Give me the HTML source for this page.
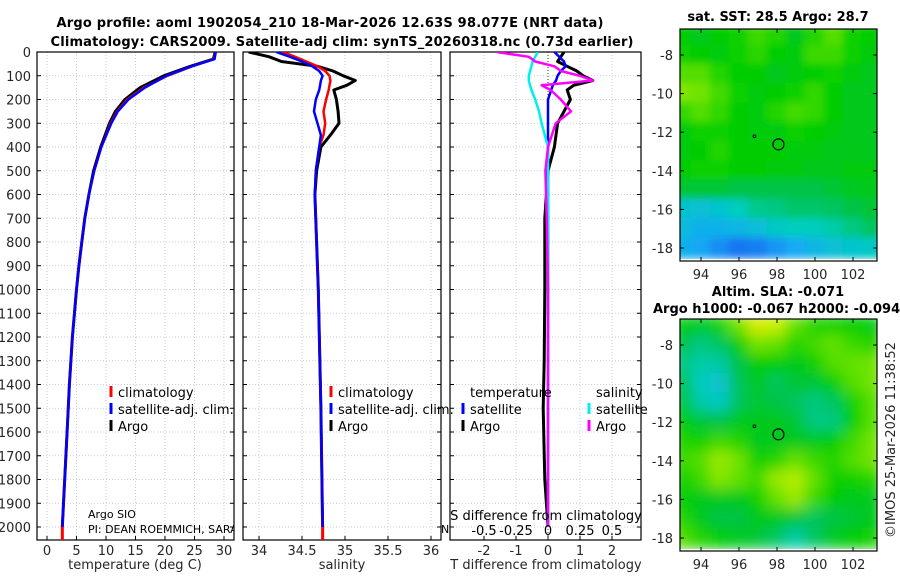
<!DOCTYPE html>
<html><head><meta charset="utf-8"><style>
html,body{margin:0;padding:0;background:#fff}
svg{display:block;font-family:"DejaVu Sans","Liberation Sans",sans-serif}
</style></head><body>
<svg id="c" width="900" height="580" viewBox="0 0 900 580" xmlns="http://www.w3.org/2000/svg">
<defs>
<filter id="bl" x="0" y="0" width="1" height="1"><feGaussianBlur stdDeviation="4" edgeMode="duplicate"/></filter>
<filter id="bl2" x="0" y="0" width="1" height="1"><feGaussianBlur stdDeviation="7" edgeMode="duplicate"/></filter>
<clipPath id="m1c"><rect x="680" y="29" width="197" height="232"/></clipPath>
<clipPath id="m2c"><rect x="680" y="319" width="197" height="232"/></clipPath>
<clipPath id="p1c"><rect x="37" y="52" width="197" height="488"/></clipPath>
<clipPath id="p2c"><rect x="243" y="52" width="198" height="488"/></clipPath>
<clipPath id="p3c"><rect x="450" y="52" width="191" height="488"/></clipPath>
</defs>
<text x="330" y="27" text-anchor="middle" font-weight="bold" font-size="13" textLength="547">Argo profile: aoml 1902054_210 18-Mar-2026 12.63S 98.077E (NRT data)</text>
<text x="342" y="46" text-anchor="middle" font-weight="bold" font-size="13" textLength="583">Climatology: CARS2009. Satellite-adj clim: synTS_20260318.nc (0.73d earlier)</text>
<g id="g"></g>
</svg>
<script>
// ---- profile data ----
const depthsT = [0,30,60,100,150,200,250,300,400,500,600,700,800,900,1000,1200,1400,1600,1800,2000];
const tempArgo = [28.5,28.2,24.3,19.8,15.8,13.2,11.6,10.6,9.1,7.9,7.1,6.4,5.9,5.4,5.0,4.3,3.8,3.4,3.0,2.6];
const tempClim = [28.6,28.3,24.6,20.4,16.4,13.6,11.9,10.8,9.2,8.0,7.1,6.4,5.9,5.4,5.0,4.3,3.8,3.4,3.0,2.6];
const tempSat  = [28.6,28.4,24.5,20.2,16.6,13.8,12.0,10.9,9.2,8.0,7.1,6.4,5.9,5.4,5.0,4.3,3.8,3.4,3.0,2.6];
const depthsS = [0,20,40,60,80,100,120,140,160,200,250,300,350,400,500,600,800,1000,1500,2000];
const salArgo = [33.88,34.12,34.26,34.68,34.86,34.98,35.12,35.02,34.87,34.90,34.92,34.93,34.83,34.72,34.67,34.65,34.67,34.69,34.72,34.74];
const salClim = [34.28,34.42,34.55,34.68,34.77,34.82,34.83,34.82,34.81,34.78,34.75,34.77,34.75,34.70,34.66,34.65,34.67,34.69,34.72,34.74];
const salSat  = [34.20,34.36,34.50,34.62,34.70,34.74,34.72,34.71,34.70,34.66,34.64,34.68,34.72,34.70,34.66,34.65,34.67,34.69,34.72,34.74];
const depthsD = [0,20,40,60,80,100,120,140,160,200,250,300,400,500,700,1000,1300,1500,1800,2000];
const dTArgo  = [0.5,0.4,0.3,0.6,0.9,1.1,1.4,0.8,0.6,0.7,0.5,0.3,0.2,0.0,-0.1,-0.1,-0.12,-0.15,-0.1,0.0];
const dTSat   = [0.2,0.35,0.5,0.55,0.4,0.3,0.25,0.15,0.1,0.0,0.0,0.0,0.0,0.0,0.0,0.0,0.0,0.0,0.0,0.0];
const dSArgo  = [-0.40,-0.15,-0.10,0.05,0.10,0.25,0.35,-0.05,0.02,0.10,0.18,0.06,0.00,-0.02,-0.01,0.00,0.00,0.00,0.00,0.00];
const dSSat   = [-0.08,-0.10,-0.12,-0.13,-0.14,-0.15,-0.15,-0.14,-0.13,-0.10,-0.07,-0.05,0.00,0.00,0.00,0.00,0.00,0.00,0.00,0.00];
const depthTicks = [0,100,200,300,400,500,600,700,800,900,1000,1100,1200,1300,1400,1500,1600,1700,1800,1900,2000];
const tempTicks = [0,5,10,15,20,25,30];
const salTicks = [34,34.5,35,35.5,36];
const dTTicks = [-2,-1,0,1,2];
const dSTicks = [-0.5,-0.25,0,0.25,0.5];
// ---- map data (rows lat -7..-18, cols lon 93..103) ----
const mapLats = [-7,-8,-9,-10,-11,-12,-13,-14,-15,-16,-17,-18];
const mapLons = [93,94,95,96,97,98,99,100,101,102,103];
const sstGrid = [
[.58,.55,.58,.60,.65,.62,.55,.62,.68,.60,.58],
[.60,.58,.57,.60,.63,.58,.57,.65,.65,.60,.56],
[.68,.68,.62,.58,.58,.55,.56,.58,.60,.56,.55],
[.74,.72,.66,.60,.56,.58,.60,.64,.58,.55,.55],
[.64,.68,.64,.58,.56,.62,.66,.64,.58,.55,.55],
[.56,.60,.60,.58,.56,.57,.60,.58,.56,.55,.55],
[.56,.58,.62,.58,.58,.58,.57,.56,.55,.55,.55],
[.58,.60,.60,.58,.58,.57,.56,.55,.55,.56,.56],
[.52,.52,.52,.50,.50,.50,.50,.50,.52,.54,.55],
[.36,.34,.36,.40,.44,.45,.47,.47,.48,.50,.52],
[.32,.28,.28,.30,.33,.38,.40,.40,.42,.45,.48],
[.28,.24,.18,.12,.14,.20,.25,.30,.34,.36,.38]];
const slaGrid = [
[.58,.55,.60,.72,.90,.85,.70,.62,.60,.58,.56],
[.50,.45,.48,.58,.72,.70,.62,.66,.70,.65,.62],
[.45,.42,.42,.50,.58,.58,.55,.60,.68,.70,.72],
[.50,.40,.35,.48,.55,.48,.52,.52,.58,.68,.72],
[.52,.42,.38,.48,.52,.50,.48,.45,.48,.60,.68],
[.58,.52,.50,.55,.55,.55,.52,.45,.45,.58,.68],
[.62,.60,.65,.62,.55,.55,.55,.55,.58,.65,.72],
[.65,.68,.78,.72,.60,.62,.70,.65,.62,.68,.72],
[.60,.65,.75,.70,.65,.78,.82,.70,.60,.60,.62],
[.58,.55,.55,.55,.60,.70,.78,.65,.58,.55,.55],
[.62,.55,.50,.50,.55,.55,.52,.48,.50,.52,.55],
[.68,.62,.58,.55,.52,.48,.42,.48,.55,.58,.60]];
const argoPos = [98.077,-12.63];
const lonTicks = [94,96,98,100,102];
const latTicks = [-8,-10,-12,-14,-16,-18];

const NS='http://www.w3.org/2000/svg';
const G=document.getElementById('g');
function el(tag,attrs,parent,txt){const e=document.createElementNS(NS,tag);for(const k in attrs)e.setAttribute(k,attrs[k]);if(txt!==undefined)e.textContent=txt;(parent||G).appendChild(e);return e;}
const yD=d=>52+d*0.2375;
const BOT=540;
function panel(x0,x1,xs,ticks,labelFn,clipId,name){
  const g=el('g',{});
  
  
  depthTicks.forEach(d=>{el('line',{x1:x0,x2:x1,y1:yD(d),y2:yD(d),stroke:'#b8c0dc','stroke-width':0.8,'stroke-dasharray':'1,2'},g);});
  ticks.forEach(t=>{el('line',{x1:xs(t),x2:xs(t),y1:52,y2:BOT,stroke:'#b8c0dc','stroke-width':0.8,'stroke-dasharray':'1,2'},g);
    el('line',{x1:xs(t),x2:xs(t),y1:BOT,y2:BOT-4,stroke:'#000'},g);
    const lt=el('text',{x:xs(t),y:555,'text-anchor':'middle','font-size':13,fill:'#262626'},g,labelFn(t));
    
    });
  depthTicks.forEach(d=>{el('line',{x1:x0,x2:x0+4,y1:yD(d),y2:yD(d),stroke:'#000'},g);el('line',{x1:x1,x2:x1-4,y1:yD(d),y2:yD(d),stroke:'#000'},g);});
  el('rect',{x:x0,y:52,width:x1-x0,height:BOT-52,fill:'none',stroke:'#000','stroke-width':1.2},g);
  return g;
}
function line(xs,depths,vals,color,w,clip,name){
  const pts=depths.map((d,i)=>xs(vals[i]).toFixed(1)+','+yD(d).toFixed(1)).join(' ');
  const p=el('polyline',{points:pts,fill:'none',stroke:color,'stroke-width':w,'stroke-linejoin':'round','clip-path':'url(#'+clip+')'});
  
  
}
// Panel 1
const xT=t=>47+t*5.9;
panel(37,234,xT,tempTicks,t=>String(t),'p1c','temperature-panel');
depthTicks.forEach(d=>{const t=el('text',{x:31,y:yD(d)+5,'text-anchor':'end','font-size':13,fill:'#262626'},G,String(d));
  
  });
line(xT,depthsT,tempArgo,'#000',3,'p1c','temp-argo-line');
line(xT,depthsT,tempClim,'#f00',2.5,'p1c','temp-clim-line');
line(xT,depthsT,tempSat,'#00f',2.5,'p1c','temp-sat-line');
el('line',{x1:xT(2.6),x2:xT(2.6),y1:yD(2000),y2:BOT,stroke:'#f00','stroke-width':3});
let t1=el('text',{x:135,y:569,'text-anchor':'middle','font-size':13,fill:'#262626'},G,'temperature (deg C)');


// Panel 2
const xS=s=>259+(s-34)*86;
panel(243,441,xS,salTicks,t=>String(t),'p2c','salinity-panel');
line(xS,depthsS,salArgo,'#000',3,'p2c','sal-argo-line');
line(xS,depthsS,salClim,'#f00',2.5,'p2c','sal-clim-line');
line(xS,depthsS,salSat,'#00f',2.5,'p2c','sal-sat-line');
el('line',{x1:xS(34.74),x2:xS(34.74),y1:yD(2000),y2:BOT,stroke:'#f00','stroke-width':3});
let t2=el('text',{x:342,y:569,'text-anchor':'middle','font-size':13,fill:'#262626'},G,'salinity');


// Panel 3
const xDT=v=>548+v*32, xDS=v=>548+v*128;
panel(450,641,xDT,dTTicks,t=>String(t),'p3c','difference-panel');
el('line',{x1:548,x2:548,y1:52,y2:BOT,stroke:'#333','stroke-width':1,'stroke-dasharray':'1,2'});
line(xDT,depthsD,dTArgo,'#000',3,'p3c','dT-argo-line');
line(xDT,depthsD,dTSat,'#00f',2.5,'p3c','dT-sat-line');
line(xDS,depthsD,dSSat,'#0ee',2.5,'p3c','dS-sat-line');
line(xDS,depthsD,dSArgo,'#f0f',2.5,'p3c','dS-argo-line');
let t3=el('text',{x:546,y:569,'text-anchor':'middle','font-size':13,fill:'#262626'},G,'T difference from climatology');


let t4=el('text',{x:546,y:520,'text-anchor':'middle','font-size':13,fill:'#000'},G,'S difference from climatology');


dSTicks.forEach(v=>{const t=el('text',{x:xDS(v),y:535,'text-anchor':'middle','font-size':13,fill:'#000'},G,String(v));
  
  });
// legends
function leg(x,y,color,label,name){
  const g=el('g',{});
  
  
  el('line',{x1:x,x2:x,y1:y-11,y2:y,stroke:color,'stroke-width':3},g);
  el('text',{x:x+7,y:y,'font-size':13,fill:'#000'},g,label);
}
leg(111,397,'#f00','climatology','legend-climatology');
leg(111,414,'#00f','satellite-adj. clim.','legend-satellite-adj');
leg(111,431,'#000','Argo','legend-argo');
leg(331,397,'#f00','climatology','legend-climatology-2');
leg(331,414,'#00f','satellite-adj. clim.','legend-satellite-adj-2');
leg(331,431,'#000','Argo','legend-argo-2');
let lt=el('text',{x:470,y:397,'font-size':13},G,'temperature');


let ls=el('text',{x:596,y:397,'font-size':13},G,'salinity');


leg(463,414,'#00f','satellite','legend-t-satellite');
leg(463,431,'#000','Argo','legend-t-argo');
leg(589,414,'#0ee','satellite','legend-s-satellite');
leg(589,431,'#f0f','Argo','legend-s-argo');
let pi1=el('text',{x:88,y:518,'font-size':11},G,'Argo SIO');


let pi2=el('text',{x:88,y:533,'font-size':11,'clip-path':'url(#p1c)'},G,'PI: DEAN ROEMMICH, SARAH PURKEY');


el('text',{x:441,y:533,'font-size':11},G,'N');
// Maps
const stops=[[0,[26,70,240]],[0.25,[20,170,245]],[0.4,[0,205,190]],[0.5,[0,195,70]],[0.58,[0,205,0]],[0.7,[100,225,0]],[0.85,[200,240,0]],[1,[245,225,0]]];
function cmap(v){for(let i=1;i<stops.length;i++){if(v<=stops[i][0]){const a=stops[i-1],b=stops[i],f=(v-a[0])/(b[0]-a[0]);return 'rgb('+a[1].map((c,k)=>Math.round(c+(b[1][k]-c)*f)).join(',')+')';}}return 'rgb(245,225,0)';}
function map(top,grid,clip,name,lat8y,filt){
  const lx=lon=>701+(lon-94)*19, ly=lat=>lat8y+(-8-lat)*19.3;
  const g=el('g',{'clip-path':'url(#'+clip+')'});
  
  
  const h=el('g',{filter:'url(#'+filt+')'},g);
  mapLats.forEach((lat,r)=>mapLons.forEach((lon,c)=>{
    const cell=el('rect',{x:lx(lon-0.5)-1,y:ly(lat+0.5)-1,width:21,height:21.3,fill:cmap(grid[r][c])},h);
    
    
  }));
  el('circle',{cx:lx(argoPos[0]),cy:ly(argoPos[1]),r:5.5,fill:'none',stroke:'#000','stroke-width':1.2},g);
  el('rect',{x:lx(96.8)-1,y:ly(-12.2)-1,width:2.5,height:2.5,fill:'none',stroke:'#000','stroke-width':0.8},g);
  el('rect',{x:680,y:top,width:197,height:232,fill:'none',stroke:'#000','stroke-width':1.2});
  lonTicks.forEach(l=>{el('line',{x1:lx(l),x2:lx(l),y1:top+232,y2:top+228,stroke:'#000'});el('line',{x1:lx(l),x2:lx(l),y1:top,y2:top+4,stroke:'#000'});
    const t=el('text',{x:lx(l),y:top+250,'text-anchor':'middle','font-size':13,fill:'#262626'},G,String(l));
    
    });
  latTicks.forEach(l=>{el('line',{x1:680,x2:684,y1:ly(l),y2:ly(l),stroke:'#000'});el('line',{x1:877,x2:873,y1:ly(l),y2:ly(l),stroke:'#000'});
    const t=el('text',{x:673,y:ly(l)+5,'text-anchor':'end','font-size':13,fill:'#262626'},G,String(l));
    
    });
}
map(29,sstGrid,'m1c','sst-map',55,'bl');
map(319,slaGrid,'m2c','sla-map',345,'bl2');
let mt1=el('text',{x:778,y:21,'text-anchor':'middle','font-size':13,'font-weight':'bold'},G,'sat. SST: 28.5 Argo: 28.7');


let mt2=el('text',{x:778,y:296,'text-anchor':'middle','font-size':13,'font-weight':'bold'},G,'Altim. SLA: -0.071');


let mt3=el('text',{x:653,y:313,'font-size':13,'font-weight':'bold'},G,'Argo h1000: -0.067 h2000: -0.094');


let cp=el('text',{x:0,y:0,'font-size':13,'text-anchor':'middle',fill:'#262626',transform:'translate(895,440) rotate(-90)'},G,'©IMOS 25-Mar-2026 11:38:52');


</script>
</body></html>
